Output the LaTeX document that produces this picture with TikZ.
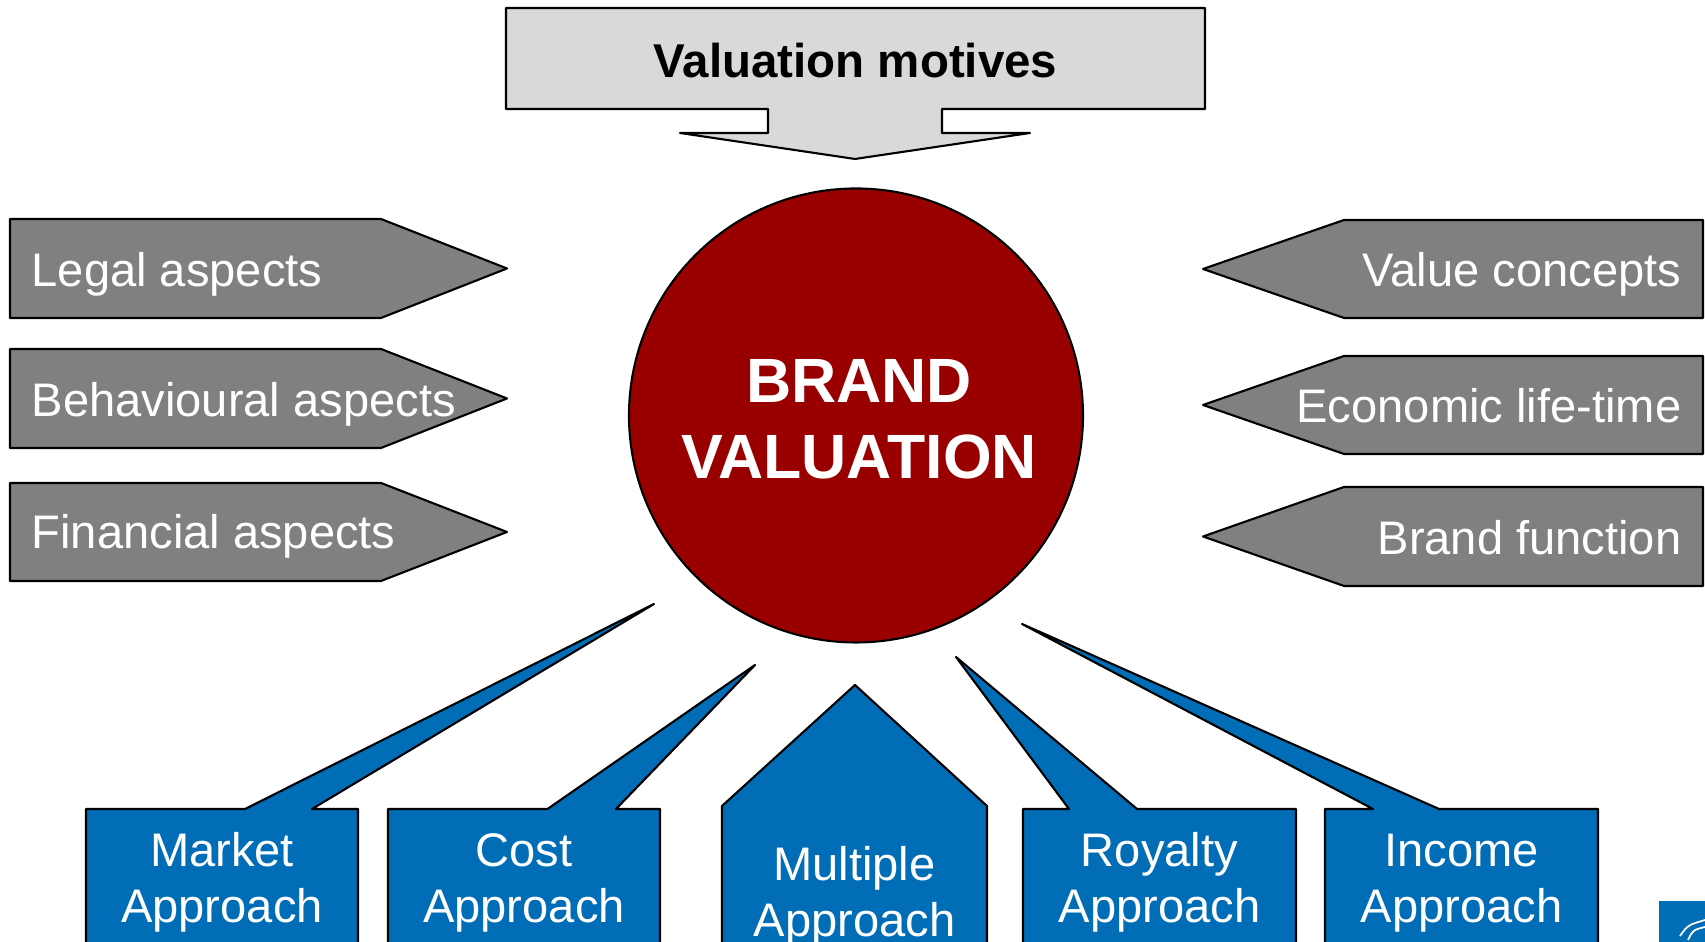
\documentclass[tikz,border=0pt]{standalone}
\usepackage{fontspec}
\setmainfont{Liberation Sans}
\usepackage{tkz-euclide}
\definecolor{motivegray}{RGB}{217,217,217}
\definecolor{aspectgray}{RGB}{128,128,128}
\definecolor{brandred}{RGB}{153,0,0}
\definecolor{approachblue}{RGB}{0,109,182}

\begin{document}
\begin{tikzpicture}[
    motive/.style={fill=motivegray,draw=black,line width=0.6pt},
    aspect/.style={fill=aspectgray,draw=black,line width=0.6pt},
    brand/.style={fill=brandred,draw=black,line width=0.6pt},
    approach/.style={fill=approachblue,draw=black,line width=0.6pt},
    aspecttext/.style={text=white,inner sep=0pt,font=\fontsize{13.4}{16.2}\selectfont},
    approachtext/.style={aspecttext,align=center,anchor=base}]
    %frame
    \useasboundingbox (0,0) rectangle (17.05,9.42);
    \clip (0,0) rectangle (17.05,9.42);
    %definitions
    \tkzDefPoint(5.06,9.34){M1} \tkzDefPoint(12.05,9.34){M2}
    \tkzDefPoint(12.05,8.33){M3} \tkzDefPoint(9.42,8.33){M4}
    \tkzDefPoint(9.42,8.09){M5} \tkzDefPoint(10.30,8.09){M6}
    \tkzDefPoint(8.55,7.83){M7} \tkzDefPoint(6.80,8.09){M8}
    \tkzDefPoint(7.68,8.09){M9} \tkzDefPoint(7.68,8.33){M10}
    \tkzDefPoint(5.06,8.33){M11}
    \tkzDefPoint(8.56,5.265){O} \tkzDefPoint(10.83,5.265){P}
    % left aspects
    \tkzDefPoint(0.10,7.23){A1} \tkzDefPoint(3.81,7.23){A2} \tkzDefPoint(5.07,6.735){A3}
    \tkzDefPoint(3.81,6.24){A4} \tkzDefPoint(0.10,6.24){A5}
    \tkzDefPoint(0.10,5.93){B1} \tkzDefPoint(3.81,5.93){B2} \tkzDefPoint(5.07,5.435){B3}
    \tkzDefPoint(3.81,4.94){B4} \tkzDefPoint(0.10,4.94){B5}
    \tkzDefPoint(0.10,4.59){C1} \tkzDefPoint(3.81,4.59){C2} \tkzDefPoint(5.07,4.10){C3}
    \tkzDefPoint(3.81,3.61){C4} \tkzDefPoint(0.10,3.61){C5}
    % right aspects
    \tkzDefPoint(17.03,7.22){D1} \tkzDefPoint(13.44,7.22){D2} \tkzDefPoint(12.03,6.73){D3}
    \tkzDefPoint(13.44,6.24){D4} \tkzDefPoint(17.03,6.24){D5}
    \tkzDefPoint(17.03,5.86){E1} \tkzDefPoint(13.44,5.86){E2} \tkzDefPoint(12.03,5.37){E3}
    \tkzDefPoint(13.44,4.88){E4} \tkzDefPoint(17.03,4.88){E5}
    \tkzDefPoint(17.03,4.55){F1} \tkzDefPoint(13.44,4.55){F2} \tkzDefPoint(12.03,4.055){F3}
    \tkzDefPoint(13.44,3.56){F4} \tkzDefPoint(17.03,3.56){F5}
    % approaches
    \tkzDefPoint(0.86,-0.2){K1} \tkzDefPoint(0.86,1.33){K2} \tkzDefPoint(2.45,1.33){K3}
    \tkzDefPoint(6.54,3.38){K4} \tkzDefPoint(3.12,1.33){K5} \tkzDefPoint(3.58,1.33){K6}
    \tkzDefPoint(3.58,-0.2){K7}
    \tkzDefPoint(3.88,-0.2){G1} \tkzDefPoint(3.88,1.33){G2} \tkzDefPoint(5.475,1.33){G3}
    \tkzDefPoint(7.55,2.77){G4} \tkzDefPoint(6.16,1.33){G5} \tkzDefPoint(6.60,1.33){G6}
    \tkzDefPoint(6.60,-0.2){G7}
    \tkzDefPoint(7.22,-0.2){U1} \tkzDefPoint(7.22,1.36){U2} \tkzDefPoint(8.55,2.57){U3}
    \tkzDefPoint(9.87,1.36){U4} \tkzDefPoint(9.87,-0.2){U5}
    \tkzDefPoint(10.23,-0.2){R1} \tkzDefPoint(10.23,1.33){R2} \tkzDefPoint(10.69,1.33){R3}
    \tkzDefPoint(9.56,2.85){R4} \tkzDefPoint(11.37,1.33){R5} \tkzDefPoint(12.96,1.33){R6}
    \tkzDefPoint(12.96,-0.2){R7}
    \tkzDefPoint(13.25,-0.2){I1} \tkzDefPoint(13.25,1.33){I2} \tkzDefPoint(13.73,1.33){I3}
    \tkzDefPoint(10.22,3.18){I4} \tkzDefPoint(14.39,1.33){I5} \tkzDefPoint(15.98,1.33){I6}
    \tkzDefPoint(15.98,-0.2){I7}
    %drawing
    \tkzDrawPolygon[motive](M1,M2,M3,M4,M5,M6,M7,M8,M9,M10,M11)
    \tkzDrawCircle[brand](O,P)
    \tkzDrawPolygon[aspect](A1,A2,A3,A4,A5)
    \tkzDrawPolygon[aspect](B1,B2,B3,B4,B5)
    \tkzDrawPolygon[aspect](C1,C2,C3,C4,C5)
    \tkzDrawPolygon[aspect](D1,D2,D3,D4,D5)
    \tkzDrawPolygon[aspect](E1,E2,E3,E4,E5)
    \tkzDrawPolygon[aspect](F1,F2,F3,F4,F5)
    \tkzDrawPolygon[approach](K1,K2,K3,K4,K5,K6,K7)
    \tkzDrawPolygon[approach](G1,G2,G3,G4,G5,G6,G7)
    \tkzDrawPolygon[approach](U1,U2,U3,U4,U5)
    \tkzDrawPolygon[approach](R1,R2,R3,R4,R5,R6,R7)
    \tkzDrawPolygon[approach](I1,I2,I3,I4,I5,I6,I7)
    % logo corner
    \fill[approachblue] (16.59,0) rectangle (17.05,0.41);
    \draw[white,line width=0.5pt] (16.80,0.06) .. controls (16.88,0.17) .. (17.05,0.22);
    \draw[white,line width=0.5pt] (16.88,0.02) .. controls (16.93,0.12) .. (17.05,0.15);
    %label
    \node[anchor=base,inner sep=0pt,font=\bfseries\fontsize{13.5}{16}\selectfont]
        (motives) at (8.555,8.64) {Valuation motives};
    \node[anchor=base,align=center,text=white,inner sep=0pt,
        font=\bfseries\fontsize{17.8}{21.9}\selectfont]
        (brandval) at (8.59,4.63) {BRAND\\VALUATION};
    \node[aspecttext,anchor=base west] (legal) at (0.31,6.55) {Legal aspects};
    \node[aspecttext,anchor=base west] (behav) at (0.31,5.25) {Behavioural aspects};
    \node[aspecttext,anchor=base west] (financial) at (0.31,3.93) {Financial aspects};
    \node[aspecttext,anchor=base east] (valueconc) at (16.82,6.55) {Value concepts};
    \node[aspecttext,anchor=base east] (ecolife) at (16.82,5.19) {Economic life-time};
    \node[aspecttext,anchor=base east] (brandfun) at (16.82,3.87) {Brand function};
    \node[approachtext] (market) at (2.22,0.19) {Market\\Approach};
    \node[approachtext] (cost) at (5.24,0.19) {Cost\\Approach};
    \node[approachtext] (multiple) at (8.545,0.05) {Multiple\\Approach};
    \node[approachtext] (royalty) at (11.595,0.19) {Royalty\\Approach};
    \node[approachtext] (income) at (14.615,0.19) {Income\\Approach};
\end{tikzpicture}
\end{document}
